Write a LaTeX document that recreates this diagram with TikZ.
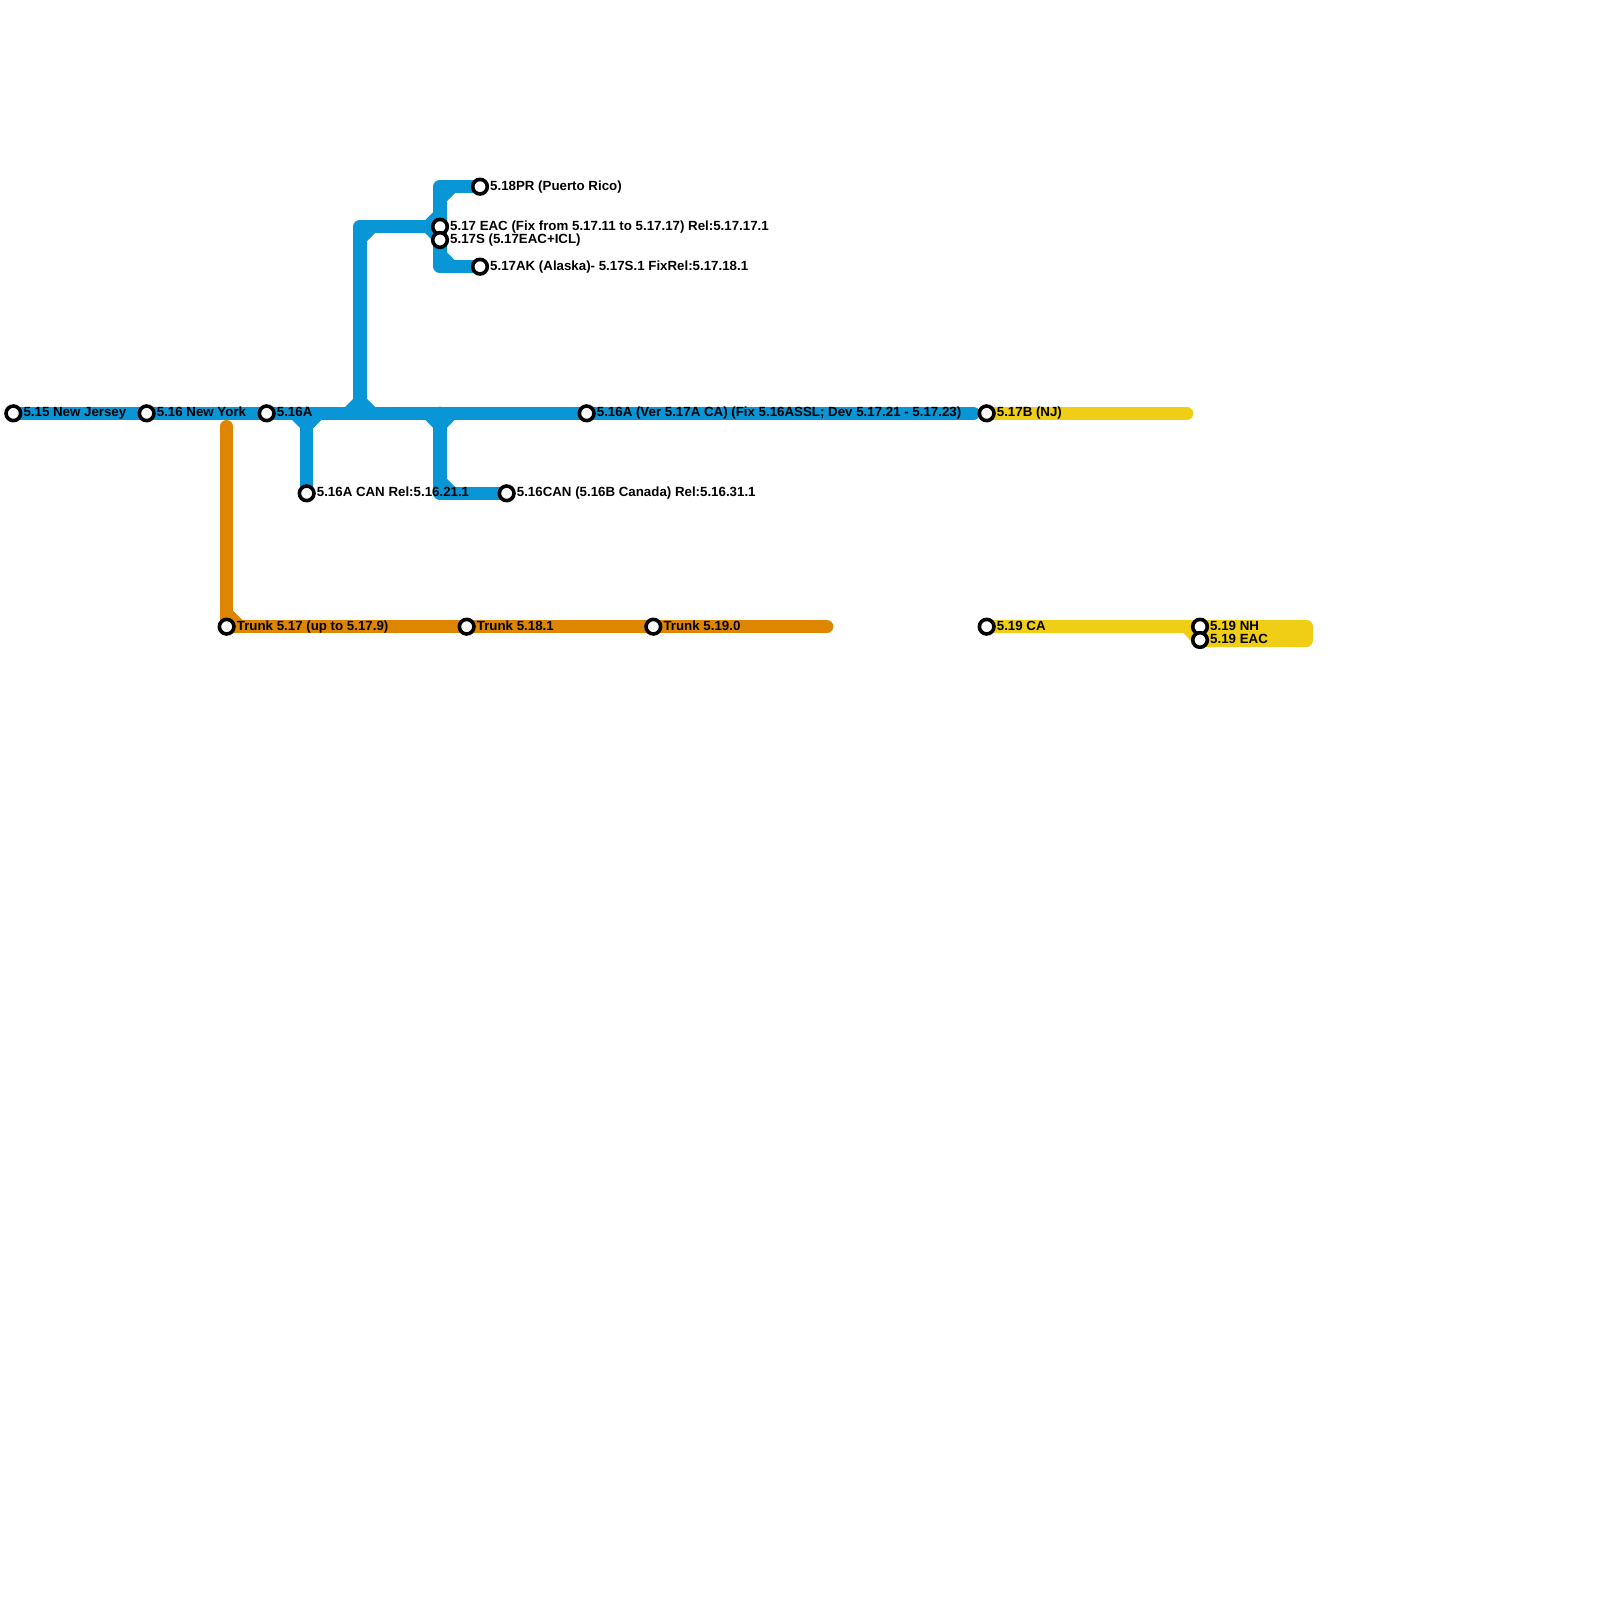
\documentclass[tikz,border=0pt]{standalone}
\usepackage{fontspec}
\setmainfont{Liberation Sans}
\usetikzlibrary{backgrounds}
\definecolor{lineblue}{HTML}{0896D7}
\definecolor{lineorange}{HTML}{DF8600}
\definecolor{lineyellow}{HTML}{F0CE15}
\tikzset{
  x=1pt,y=-1pt,
  stn/.style={circle,draw=black,fill=white,line width=3.6pt,minimum size=14.6pt,inner sep=0pt},
  lbl/.style={anchor=base west,inner sep=0pt,font=\fontsize{13.3}{15}\selectfont\bfseries,text=black},
  rail/.style={line width=13.33pt,line join=round,line cap=round},
  blue/.style={rail,draw=lineblue},
  orange/.style={rail,draw=lineorange},
  yellow/.style={rail,draw=lineyellow},
}
\newcommand{\stnl}[4]{%
  \node[stn] (#1) at (#2,#3) {};
  \node[lbl] (#1l) at (#2+10,#3+3.6) {#4};
}
\begin{document}
\begin{tikzpicture}
\useasboundingbox (0,0) rectangle (1600,1600);
\stnl{nj}{13.33}{413.33}{5.15 New Jersey}
\stnl{ny}{146.67}{413.33}{5.16 New York}
\stnl{a}{266.67}{413.33}{5.16A}
\stnl{acan}{306.67}{493.33}{5.16A CAN Rel:5.16.21.1}
\stnl{can}{506.67}{493.33}{5.16CAN (5.16B Canada) Rel:5.16.31.1}
\stnl{pr}{480}{186.67}{5.18PR (Puerto Rico)}
\stnl{eac}{440}{226.67}{5.17 EAC (Fix from 5.17.11 to 5.17.17) Rel:5.17.17.1}
\stnl{s}{440}{240}{5.17S (5.17EAC+ICL)}
\stnl{ak}{480}{266.67}{5.17AK (Alaska)- 5.17S.1 FixRel:5.17.18.1}
\stnl{ver}{586.67}{413.33}{5.16A (Ver 5.17A CA) (Fix 5.16ASSL; Dev 5.17.21 - 5.17.23)}
\stnl{b}{986.67}{413.33}{5.17B (NJ)}
\stnl{ca}{986.67}{626.67}{5.19 CA}
\stnl{nh}{1200}{626.67}{5.19 NH}
\stnl{e19}{1200}{640}{5.19 EAC}
\stnl{t17}{226.67}{626.67}{Trunk 5.17 (up to 5.17.9)}
\stnl{t18}{466.67}{626.67}{Trunk 5.18.1}
\stnl{t19}{653.33}{626.67}{Trunk 5.19.0}
\coordinate (bend) at (973.33,413.33);
\coordinate (yb) at (1186.67,413.33);
\coordinate (ttop) at (226.67,426.67);
\coordinate (tend) at (826.67,626.67);
\coordinate (j1) at (306.67,413.33);
\coordinate (j2) at (360,413.33);
\coordinate (j3) at (440,413.33);
\coordinate (c1) at (360,226.67);
\coordinate (c2) at (440,186.67);
\coordinate (c3) at (440,266.67);
\coordinate (c4) at (440,493.33);
\coordinate (y1) at (1306.67,626.67);
\coordinate (y2) at (1306.67,640);
\begin{scope}[on background layer]
\fill[white] (0,0) rectangle (1600,1600);
\draw[blue] (nj.center) -- (bend);
\draw[blue] (j1) -- (acan.center);
\draw[blue] (j2) -- (c1) -- (eac.center);
\draw[blue] (pr.center) -- (c2) -- (c3) -- (ak.center);
\draw[blue] (j3) -- (c4) -- (can.center);
\foreach \x/\y/\dx/\dy in {446.67/193.33/1/1, 433.33/220/-1/-1, 433.33/233.33/-1/1, 446.67/260/1/-1, 366.67/233.33/1/1, 353.33/406.67/-1/-1, 366.67/406.67/1/-1, 300/420/-1/1, 313.33/420/1/1, 433.33/420/-1/1, 446.67/420/1/1, 446.67/486.67/1/-1}
  \fill[lineblue] (\x-\dx,\y-\dy) -- (\x+\dx*9,\y-\dy) -- (\x-\dx,\y+\dy*9) -- cycle;
\draw[orange] (ttop) -- (t17.center) -- (tend);
\fill[lineorange] (232.33,621) -- (243.33,621) -- (232.33,610) -- cycle;
\draw[yellow] (b.center) -- (yb);
\draw[yellow] (ca.center) -- (y1) -- (y2) -- (e19.center);
\fill[lineyellow] (1183.33,633) -- (1200,633) -- (1200,646.67) -- (1196.67,646.67) -- cycle;
\end{scope}
\end{tikzpicture}
\end{document}
